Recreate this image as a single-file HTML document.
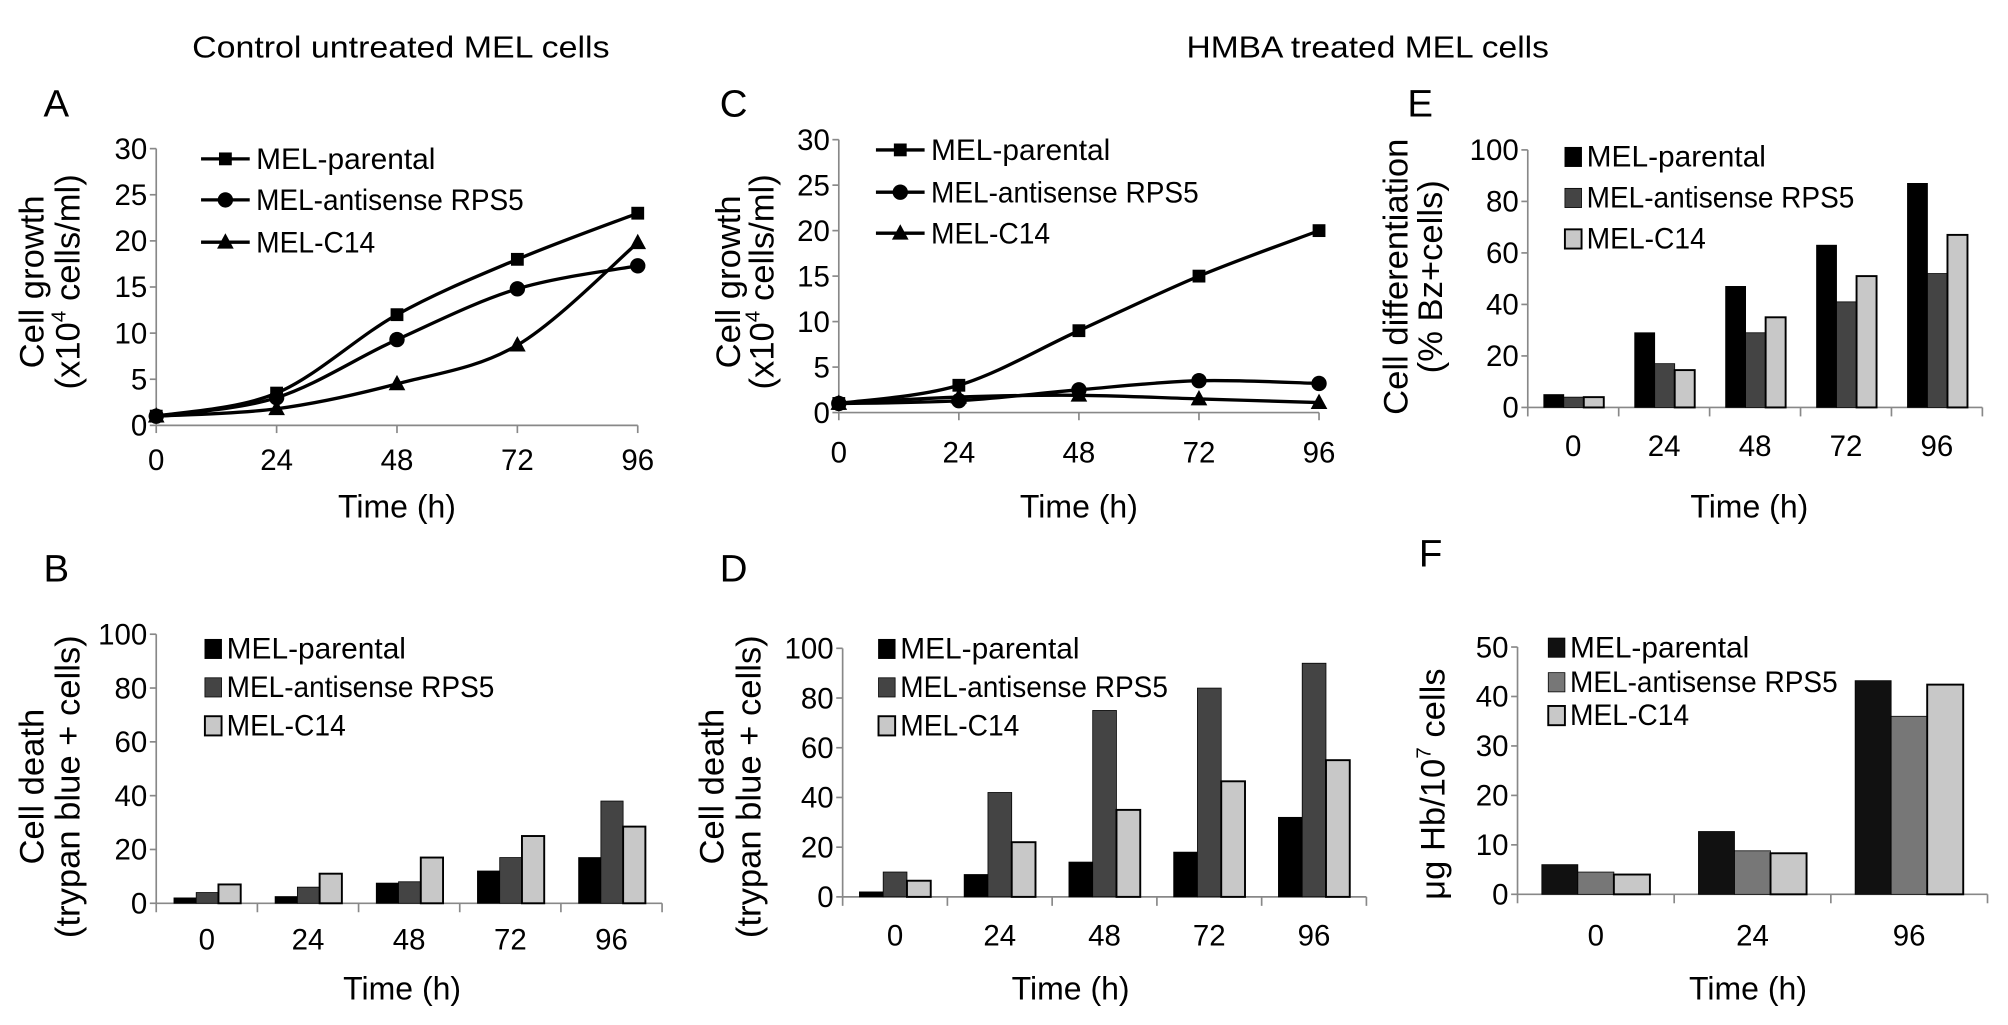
<!DOCTYPE html>
<html><head><meta charset="utf-8"><style>
html,body{margin:0;padding:0;background:#fff;}
svg{display:block;font-family:"Liberation Sans",sans-serif;}
</style></head><body>
<svg id="fig" xmlns="http://www.w3.org/2000/svg" width="2008" height="1025" viewBox="0 0 1568 800" preserveAspectRatio="none">
<rect width="1568" height="800" fill="#fff"/>
<text x="313" y="45" font-size="24" text-anchor="middle" textLength="326" lengthAdjust="spacingAndGlyphs">Control untreated MEL cells</text>
<text x="1068" y="45" font-size="24" text-anchor="middle" textLength="283" lengthAdjust="spacingAndGlyphs">HMBA treated MEL cells</text>
<g id="root"></g>
</svg>
<script>
// ---- data ----
var timeLabels = ["0","24","48","72","96"];
var timeValues = [0,24,48,72,96];
var seriesNames = ["MEL-parental","MEL-antisense RPS5","MEL-C14"];
var growthTicks = [0,5,10,15,20,25,30];
var pctTicks = [0,20,40,60,80,100];
var hbTicks = [0,10,20,30,40,50];
var hbLabels = ["0","24","96"];

var aParental = [1,3.5,12,18,23];
var aAntisense = [1,3,9.3,14.8,17.3];
var aC14 = [1,1.8,4.5,8.7,19.8];

var cParental = [1,3,9,15,20];
var cAntisense = [1,1.3,2.5,3.5,3.2];
var cC14 = [1,1.7,1.9,1.5,1.1];

var bParental = [2,2.5,7.5,12,17];
var bAntisense = [4,6,8,17,38];
var bC14 = [7,11,17,25,28.5];

var dParental = [2,9,14,18,32];
var dAntisense = [10,42,75,84,94];
var dC14 = [6.5,22,35,46.5,55];

var eParental = [5,29,47,63,87];
var eAntisense = [4,17,29,41,52];
var eC14 = [4,14.5,35,51,67];

var fParental = [6,12.7,43.2];
var fAntisense = [4.5,8.8,36];
var fC14 = [4,8.3,42.4];

// ---- helpers ----
var NS="http://www.w3.org/2000/svg";
var root=document.getElementById('root');
var legLens=[140,209,93];
function mk(tag,attrs,parent){var e=document.createElementNS(NS,tag);for(var k in attrs)e.setAttribute(k,attrs[k]);(parent||root).appendChild(e);return e;}
function txt(s,attrs,parent){var e=mk('text',attrs,parent);e.textContent=s;return e;}

function yTitle(g,lines,xs,cy,fs){
  for(var i=0;i<lines.length;i++){
    var t=mk('text',{x:0,y:0,'font-size':fs,'text-anchor':'middle',transform:'translate('+xs[i]+','+cy+') rotate(-90)'},g);
    
    
    if(typeof lines[i]==='string'){t.textContent=lines[i];}
    else{for(var j=0;j<lines[i].length;j++){var ts=mk('tspan',lines[i][j].sup?{'font-size':fs*0.6,dy:-fs*0.4}:(j>0&&lines[i][j-1].sup?{dy:fs*0.4}:{}),t);ts.textContent=lines[i][j].t;}}
  }
}

function yAxis(g,x0,y0,y1,ticks,vmax){
  function ys(v){return y0-(v/vmax)*(y0-y1);}
  var ax=mk('line',{x1:x0,y1:y0,x2:x0,y2:y1,stroke:'#888','stroke-width':1.3},g);
  
  
  for(var i=0;i<ticks.length;i++){
    var y=ys(ticks[i]);
    mk('line',{x1:x0-5,y1:y,x2:x0,y2:y,stroke:'#888','stroke-width':1.3},g);
    var t=txt(String(ticks[i]),{x:x0-7,y:y+8,'font-size':23,'text-anchor':'end'},g);
    
    
  }
  return ys;
}

function catmull(pts){
  var d='M'+pts[0][0]+','+pts[0][1];
  for(var i=0;i<pts.length-1;i++){
    var p0=pts[i-1]||pts[i],p1=pts[i],p2=pts[i+1],p3=pts[i+2]||p2;
    var c1x=p1[0]+(p2[0]-p0[0])/6,c1y=p1[1]+(p2[1]-p0[1])/6;
    var c2x=p2[0]-(p3[0]-p1[0])/6,c2y=p2[1]-(p3[1]-p1[1])/6;
    d+=' C'+c1x+','+c1y+' '+c2x+','+c2y+' '+p2[0]+','+p2[1];
  }
  return d;
}
function marker(g,type,x,y){
  var m;
  if(type===0){m=mk('rect',{x:x-5,y:y-5,width:10,height:10,fill:'#000'},g);}
  else if(type===1){m=mk('circle',{cx:x,cy:y,r:6,fill:'#000'},g);}
  else{m=mk('path',{d:'M'+x+','+(y-7)+' L'+(x+6.5)+','+(y+5)+' L'+(x-6.5)+','+(y+5)+'Z',fill:'#000'},g);}
  return m;
}

function lineChart(p){
  var g=mk('g',{});
  
  
  var ys=yAxis(g,p.x0,p.y0,p.y1,growthTicks,30);
  function xs(v){return p.x0+(v/96)*(p.x1-p.x0);}
  var xa=mk('line',{x1:p.x0,y1:p.y0,x2:p.x1,y2:p.y0,stroke:'#888','stroke-width':1.3},g);
  
  
  for(var i=0;i<timeValues.length;i++){
    var x=xs(timeValues[i]);
    mk('line',{x1:x,y1:p.y0,x2:x,y2:p.y0+6,stroke:'#888','stroke-width':1.3},g);
    var t=txt(timeLabels[i],{x:x,y:p.labY,'font-size':23,'text-anchor':'middle'},g);
    
    
  }
  for(var s=0;s<p.series.length;s++){
    var pts=[];
    for(var i=0;i<p.series[s].length;i++)pts.push([xs(timeValues[i]),ys(p.series[s][i])]);
    var path=mk('path',{d:catmull(pts),fill:'none',stroke:'#000','stroke-width':2.6},g);
    
    
    for(var i=0;i<pts.length;i++){
      var m=marker(g,s,pts[i][0],pts[i][1]);
      
      
    }
    var ly=p.legY[s];
    mk('line',{x1:p.legX,y1:ly,x2:p.legX+38,y2:ly,stroke:'#000','stroke-width':2.6},g);
    var lm=marker(g,s,p.legX+19,ly);
    
    
    var lt=txt(seriesNames[s],{x:p.legX+43,y:ly+8,'font-size':23,textLength:legLens[s],lengthAdjust:'spacingAndGlyphs'},g);
    
    
  }
  var tt=txt('Time (h)',{x:(p.x0+p.x1)/2,y:p.ttY,'font-size':25,'text-anchor':'middle'},g);
  
  
  yTitle(g,[ 'Cell growth',[{t:'(x10'},{t:'4',sup:true},{t:' cells/ml)'}] ],p.tx,p.tcy,27);
  var pl=txt(p.letter,{x:p.lx,y:p.ly,'font-size':30},g);
  
  
}

function barChart(p){
  var g=mk('g',{});
  
  
  var ys=yAxis(g,p.x0,p.y0,p.y1,p.ticks,p.vmax);
  var n=p.cats.length,gw=(p.x1-p.x0)/n;
  var xa=mk('line',{x1:p.x0,y1:p.y0,x2:p.x1,y2:p.y0,stroke:'#888','stroke-width':1.3},g);
  
  
  for(var i=0;i<=n;i++){mk('line',{x1:p.x0+i*gw,y1:p.y0,x2:p.x0+i*gw,y2:p.y0+7,stroke:'#888','stroke-width':1.3},g);}
  var bw=gw*p.bw,off=gw*p.off;
  for(var i=0;i<n;i++){
    var t=txt(p.cats[i],{x:p.x0+(i+0.5)*gw,y:p.labY,'font-size':23,'text-anchor':'middle'},g);
    
    
    for(var s=0;s<3;s++){
      var v=p.series[s][i],y=ys(v);
      var r=mk('rect',{x:p.x0+i*gw+off+s*bw,y:y,width:bw,height:p.y0-y,fill:p.colors[s],stroke:'#000','stroke-width':s===2?1.5:0.6},g);
      
      
    }
  }
  for(var s=0;s<3;s++){
    var ly=p.legY[s];
    var sq=mk('rect',{x:p.legX,y:ly-7,width:13,height:15,fill:p.colors[s],stroke:'#000','stroke-width':s===2?1.5:0.6},g);
    
    
    var lt=txt(seriesNames[s],{x:p.legX+17,y:ly+8,'font-size':23,textLength:legLens[s],lengthAdjust:'spacingAndGlyphs'},g);
    
    
  }
  var tt=txt('Time (h)',{x:p.ttX,y:p.ttY,'font-size':25,'text-anchor':'middle'},g);
  
  
  yTitle(g,p.title,p.tx,p.tcy,27);
  var pl=txt(p.letter,{x:p.lx,y:p.ly,'font-size':30},g);
  
  
}

lineChart({name:'panel-a-growth-control',letter:'A',lx:34,ly:91,x0:122,x1:498,y0:332,y1:116,labY:367,ttY:404,tx:[34,62],tcy:220,
  series:[aParental,aAntisense,aC14],legX:157,legY:[124,156,189]});
lineChart({name:'panel-c-growth-hmba',letter:'C',lx:562,ly:91,x0:655,x1:1030,y0:322,y1:109,labY:361,ttY:404,tx:[578,604],tcy:220,
  series:[cParental,cAntisense,cC14],legX:684,legY:[117,150,182]});

var gray3=['#000','#444','#c8c8c8'];
barChart({name:'panel-b-death-control',letter:'B',lx:34,ly:454,x0:122,x1:517,y0:705,y1:495,ticks:pctTicks,vmax:100,cats:timeLabels,
  series:[bParental,bAntisense,bC14],colors:gray3,bw:0.22,off:0.175,labY:741,ttX:314,ttY:780,
  legX:160,legY:[506,536,566],tx:[34,62],tcy:614,title:['Cell death','(trypan blue + cells)']});
barChart({name:'panel-d-death-hmba',letter:'D',lx:562,ly:454,x0:658,x1:1067,y0:700,y1:506,ticks:pctTicks,vmax:100,cats:timeLabels,
  series:[dParental,dAntisense,dC14],colors:gray3,bw:0.227,off:0.16,labY:738,ttX:836,ttY:780,
  legX:686,legY:[506,536,566],tx:[565,594],tcy:614,title:['Cell death','(trypan blue + cells)']});
barChart({name:'panel-e-differentiation',letter:'E',lx:1099,ly:91,x0:1193,x1:1548,y0:318,y1:117,ticks:pctTicks,vmax:100,cats:timeLabels,
  series:[eParental,eAntisense,eC14],colors:gray3,bw:0.22,off:0.176,labY:356,ttX:1366,ttY:404,
  legX:1222,legY:[122,154,186],tx:[1099,1126],tcy:216,title:['Cell differentiation','(% Bz+cells)']});
barChart({name:'panel-f-hemoglobin',letter:'F',lx:1108,ly:442,x0:1185,x1:1552,y0:698,y1:505,ticks:hbTicks,vmax:50,cats:hbLabels,
  series:[fParental,fAntisense,fC14],colors:['#111','#777','#c8c8c8'],bw:0.23,off:0.155,labY:738,ttX:1365,ttY:780,
  legX:1209,legY:[505,532,558],tx:[1128],tcy:612,title:[[{t:'\u03bcg Hb/10'},{t:'7',sup:true},{t:' cells'}]]});
</script>
</body></html>
